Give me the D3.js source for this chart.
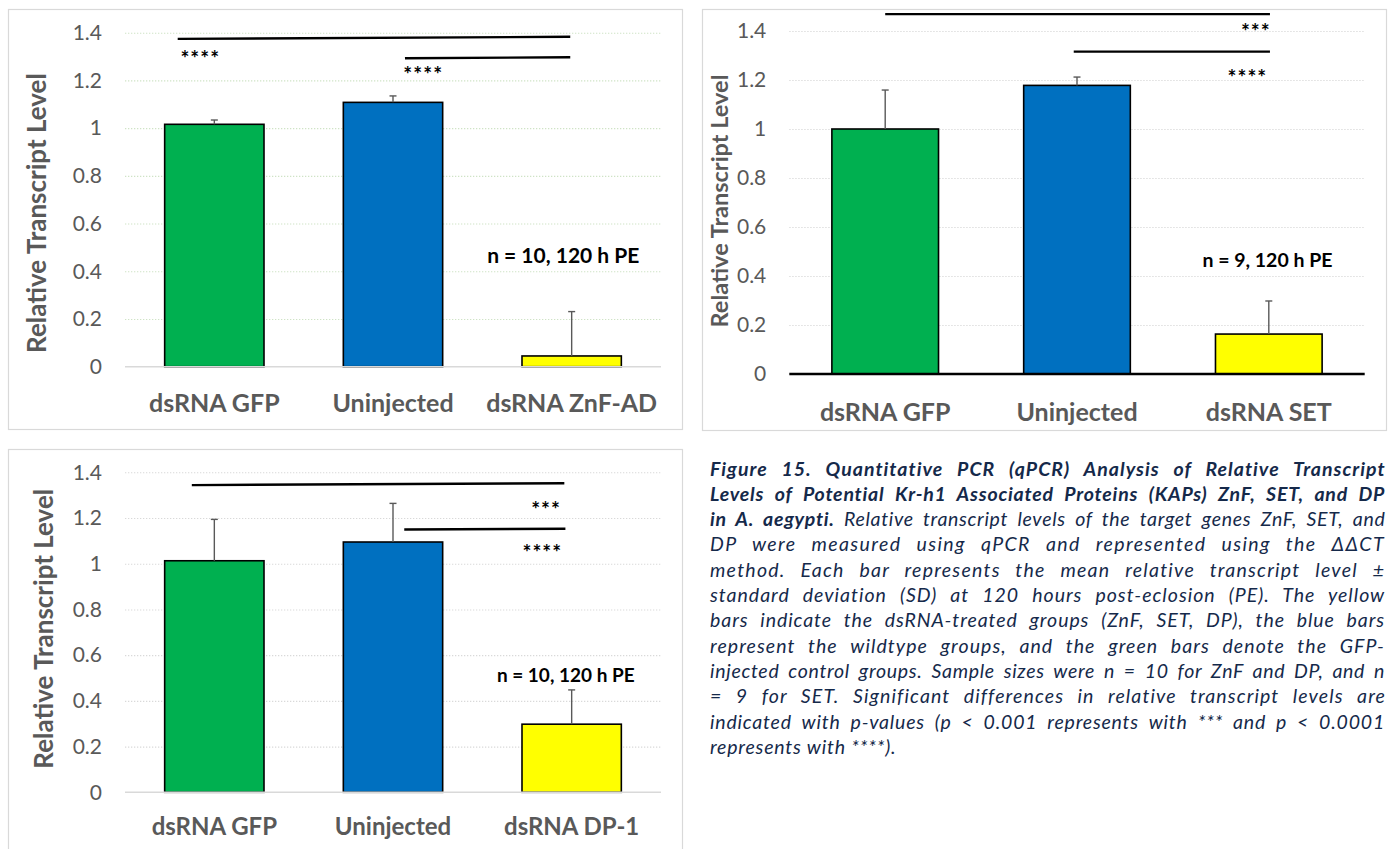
<!DOCTYPE html>
<html>
<head>
<meta charset="utf-8">
<script src="https://cdn.jsdelivr.net/npm/d3@7"></script>
<style>
  body { margin: 0; background: #fff; }
  svg { display: block; font-family: Lato, "Open Sans", sans-serif; }
</style>
</head>
<body>
<svg id="fig" width="1389" height="849"></svg>
<script>
// ---- data ----
var yTicks = [0, 0.2, 0.4, 0.6, 0.8, 1, 1.2, 1.4];
var yTickLabels = ["0", "0.2", "0.4", "0.6", "0.8", "1", "1.2", "1.4"];

// ZnF panel (top left)
var catsZnF = ["dsRNA GFP", "Uninjected", "dsRNA ZnF-AD"];
var meanZnF = [1.016, 1.108, 0.045];
var sdZnF   = [0.018, 0.027, 0.186];

// SET panel (top right)
var catsSET = ["dsRNA GFP", "Uninjected", "dsRNA SET"];
var meanSET = [1.0, 1.178, 0.163];
var sdSET   = [0.159, 0.034, 0.135];

// DP panel (bottom left)
var catsDP = ["dsRNA GFP", "Uninjected", "dsRNA DP-1"];
var meanDP = [1.013, 1.095, 0.298];
var sdDP   = [0.181, 0.169, 0.150];

var barColors = ["#00B050", "#0070C0", "#FFFF00"];

var svg = d3.select("#fig");
svg.append("rect").attr("width", 1389).attr("height", 849).attr("fill", "#fff");

/*
one panel per gene. "at" positions are in category units:
0 = centre of first bar, 1 = centre of second, ...
*/
var panels = [
  {
    cats: catsZnF, means: meanZnF, sd: sdZnF,
    box: {x: 8, y: 9, w: 674, h: 420},
    plot: {x0: 125, x1: 661, yTop: 32.7, yBot: 366.7},
    grid: "#cfe3c6", base: {color: "#d9d9d9", w: 1.5},
    title: {x: 37, y: 213, fs: 26},
    tickFs: 21, catFs: 25, catPad: 28,
    note: {text: "n = 10, 120 h PE", at: 1.953, v: 0.468, fs: 21},
    lines: [{a: -0.205, b: 1.992, v0: 1.374, v1: 1.383},
            {a: 1.067, b: 1.992, v0: 1.293, v1: 1.297}],
    stars: [{text: "****", at: -0.19, v: 1.314, anchor: "start"},
            {text: "****", at: 1.058, v: 1.247, anchor: "start"}]
  },
  {
    cats: catsSET, means: meanSET, sd: sdSET,
    box: {x: 702, y: 9, w: 684, h: 421},
    plot: {x0: 789.3, x1: 1364.7, yTop: 31, yBot: 374},
    grid: "#d9d9d9", base: {color: "#000", w: 2.7},
    title: {x: 720, y: 201, fs: 23.5},
    tickFs: 21, catFs: 25, catPad: 29,
    note: {text: "n = 9, 120 h PE", at: 1.993, v: 0.465, fs: 19.5},
    lines: [{a: 0, b: 2.006, v0: 1.469, v1: 1.469},
            {a: 0.983, b: 2.006, v0: 1.316, v1: 1.316}],
    stars: [{text: "***", at: 2.01, v: 1.42, anchor: "end"},
            {text: "****", at: 1.992, v: 1.23, anchor: "end"}]
  },
  {
    cats: catsDP, means: meanDP, sd: sdDP,
    box: {x: 8, y: 449, w: 674, h: 420},
    plot: {x0: 125, x1: 661, yTop: 472.3, yBot: 792.3},
    grid: "#d9d9d9", base: {color: "#d9d9d9", w: 1.5},
    title: {x: 44, y: 628.7, fs: 26},
    tickFs: 21, catFs: 24, catPad: 26,
    note: {text: "n = 10, 120 h PE", at: 1.967, v: 0.513, fs: 19},
    lines: [{a: -0.126, b: 1.959, v0: 1.344, v1: 1.352},
            {a: 1.063, b: 1.965, v0: 1.150, v1: 1.153}],
    stars: [{text: "***", at: 1.94, v: 1.261, anchor: "end"},
            {text: "****", at: 1.947, v: 1.072, anchor: "end"}]
  }
];

function drawPanel(p) {
  var g = svg.append("g");

  g.append("rect")
      .attr("x", p.box.x + 0.5).attr("y", p.box.y + 0.5)
      .attr("width", p.box.w).attr("height", p.box.h)
      .attr("fill", "#fff").attr("stroke", "#d9d9d9").attr("stroke-width", 1.2);

  var x = d3.scaleBand().domain(p.cats)
      .range([p.plot.x0, p.plot.x1])
      .paddingInner(0.444).paddingOuter(0.222);
  var y = d3.scaleLinear().domain([0, 1.4]).range([p.plot.yBot, p.plot.yTop]);
  var at = function(i) { return x(p.cats[0]) + x.bandwidth() / 2 + i * x.step(); };

  // dotted gridlines
  g.append("g")
      .attr("transform", "translate(" + p.plot.x0 + ",0)")
      .call(d3.axisLeft(y).tickValues(yTicks.slice(1))
          .tickSize(-(p.plot.x1 - p.plot.x0)).tickFormat(""))
      .call(function(s) { s.select(".domain").remove(); })
      .selectAll("line")
      .attr("stroke", p.grid).attr("stroke-width", 1.1)
      .attr("stroke-dasharray", "1.3,1.7");

  // bars
  g.selectAll("rect.bar").data(p.cats).join("rect")
      .attr("class", "bar")
      .attr("x", function(d) { return x(d); })
      .attr("y", function(d, i) { return y(p.means[i]); })
      .attr("width", x.bandwidth())
      .attr("height", function(d, i) { return y(0) - y(p.means[i]); })
      .attr("fill", function(d, i) { return barColors[i]; })
      .attr("stroke", "#000").attr("stroke-width", 1.6);

  // baseline
  g.append("line")
      .attr("x1", p.plot.x0).attr("x2", p.plot.x1)
      .attr("y1", y(0)).attr("y2", y(0))
      .attr("stroke", p.base.color).attr("stroke-width", p.base.w);

  // error bars (upper half only)
  var eb = g.selectAll("g.err").data(p.cats).join("g").attr("class", "err")
      .attr("stroke", "#595959").attr("stroke-width", 1.4);
  eb.append("line")
      .attr("x1", function(d) { return x(d) + x.bandwidth() / 2; })
      .attr("x2", function(d) { return x(d) + x.bandwidth() / 2; })
      .attr("y1", function(d, i) { return y(p.means[i]); })
      .attr("y2", function(d, i) { return y(p.means[i] + p.sd[i]); });
  eb.append("line")
      .attr("x1", function(d) { return x(d) + x.bandwidth() / 2 - 3.5; })
      .attr("x2", function(d) { return x(d) + x.bandwidth() / 2 + 3.5; })
      .attr("y1", function(d, i) { return y(p.means[i] + p.sd[i]); })
      .attr("y2", function(d, i) { return y(p.means[i] + p.sd[i]); });

  // y tick labels
  g.append("g")
      .attr("transform", "translate(" + p.plot.x0 + ",0)")
      .call(d3.axisLeft(y).tickValues(yTicks).tickSize(0).tickPadding(23)
          .tickFormat(function(d, i) { return yTickLabels[i]; }))
      .call(function(s) { s.select(".domain").remove(); })
      .selectAll("text")
      .attr("fill", "#595959").style("font-size", p.tickFs + "px")
      .style("font-family", "Lato, sans-serif");

  // category labels
  g.append("g")
      .attr("transform", "translate(0," + p.plot.yBot + ")")
      .call(d3.axisBottom(x).tickSize(0).tickPadding(p.catPad))
      .call(function(s) { s.select(".domain").remove(); })
      .selectAll("text")
      .attr("fill", "#595959").style("font-size", p.catFs + "px")
      .style("font-weight", "bold").style("font-family", "Lato, sans-serif");

  // y title
  g.append("text")
      .attr("transform", "translate(" + p.title.x + "," + p.title.y + ") rotate(-90)")
      .attr("text-anchor", "middle").attr("dy", "0.35em")
      .attr("fill", "#595959").style("font-size", p.title.fs + "px")
      .style("font-weight", "bold")
      .text("Relative Transcript Level");

  // significance lines
  g.selectAll("line.sig").data(p.lines).join("line")
      .attr("class", "sig")
      .attr("x1", function(d) { return at(d.a); })
      .attr("x2", function(d) { return at(d.b); })
      .attr("y1", function(d) { return y(d.v0); })
      .attr("y2", function(d) { return y(d.v1); })
      .attr("stroke", "#000").attr("stroke-width", 2.4);

  g.selectAll("text.star").data(p.stars).join("text")
      .attr("class", "star")
      .attr("x", function(d) { return at(d.at); })
      .attr("y", function(d) { return y(d.v); })
      .attr("dy", "0.6em")
      .attr("text-anchor", function(d) { return d.anchor; })
      .attr("fill", "#000").style("font-size", "21px").style("font-weight", "bold")
      .style("letter-spacing", "1px")
      .text(function(d) { return d.text; });

  // sample size note
  g.append("text")
      .attr("x", at(p.note.at)).attr("y", y(p.note.v))
      .attr("dy", "0.36em").attr("text-anchor", "middle")
      .attr("fill", "#000").style("font-size", p.note.fs + "px")
      .style("font-weight", "bold")
      .text(p.note.text);
}

panels.forEach(drawPanel);

// ---- caption, justified line by line ----
var captionLines = [
  [["Figure 15. Quantitative PCR (qPCR) Analysis of Relative Transcript", true]],
  [["Levels of Potential Kr-h1 Associated Proteins (KAPs) ZnF, SET, and DP", true]],
  [["in A. aegypti.", true], [" Relative transcript levels of the target genes ZnF, SET, and", false]],
  [["DP were measured using qPCR and represented using the \u0394\u0394CT", false]],
  [["method. Each bar represents the mean relative transcript level \u00b1", false]],
  [["standard deviation (SD) at 120 hours post-eclosion (PE). The yellow", false]],
  [["bars indicate the dsRNA-treated groups (ZnF, SET, DP), the blue bars", false]],
  [["represent the wildtype groups, and the green bars denote the GFP-", false]],
  [["injected control groups. Sample sizes were n = 10 for ZnF and DP, and n", false]],
  [["= 9 for SET. Significant differences in relative transcript levels are", false]],
  [["indicated with p-values (p < 0.001 represents with *** and p < 0.0001", false]],
  [["represents with ****).", false]]
];

var capX = 710, capW = 675, capY0 = 475.5, capLH = 25.3;
var cap = svg.append("g")
    .style("font-size", "19.5px").style("font-style", "italic")
    .attr("fill", "#15294a");

var lastLS = 0.4;
captionLines.forEach(function(line, k) {
  var t = cap.append("text").attr("x", capX).attr("y", capY0 + k * capLH);
  line.forEach(function(seg) {
    t.append("tspan").style("font-weight", seg[1] ? "bold" : "normal").text(seg[0]);
  });
  var str = line.map(function(s) { return s[0]; }).join("");
  if (k < captionLines.length - 1) {
    var natural = t.node().getComputedTextLength();
    var spaces = str.split(" ").length - 1;
    var deficit = capW - natural;
    // spread part of the slack over letters, the rest over word gaps
    var ls = Math.max(0, 0.5 * deficit / str.length);
    var ws = (deficit - ls * str.length) / spaces;
    t.style("letter-spacing", ls + "px").style("word-spacing", ws + "px");
    lastLS = ls;
  } else {
    t.style("letter-spacing", lastLS + "px");
  }
});
</script>
</body>
</html>
